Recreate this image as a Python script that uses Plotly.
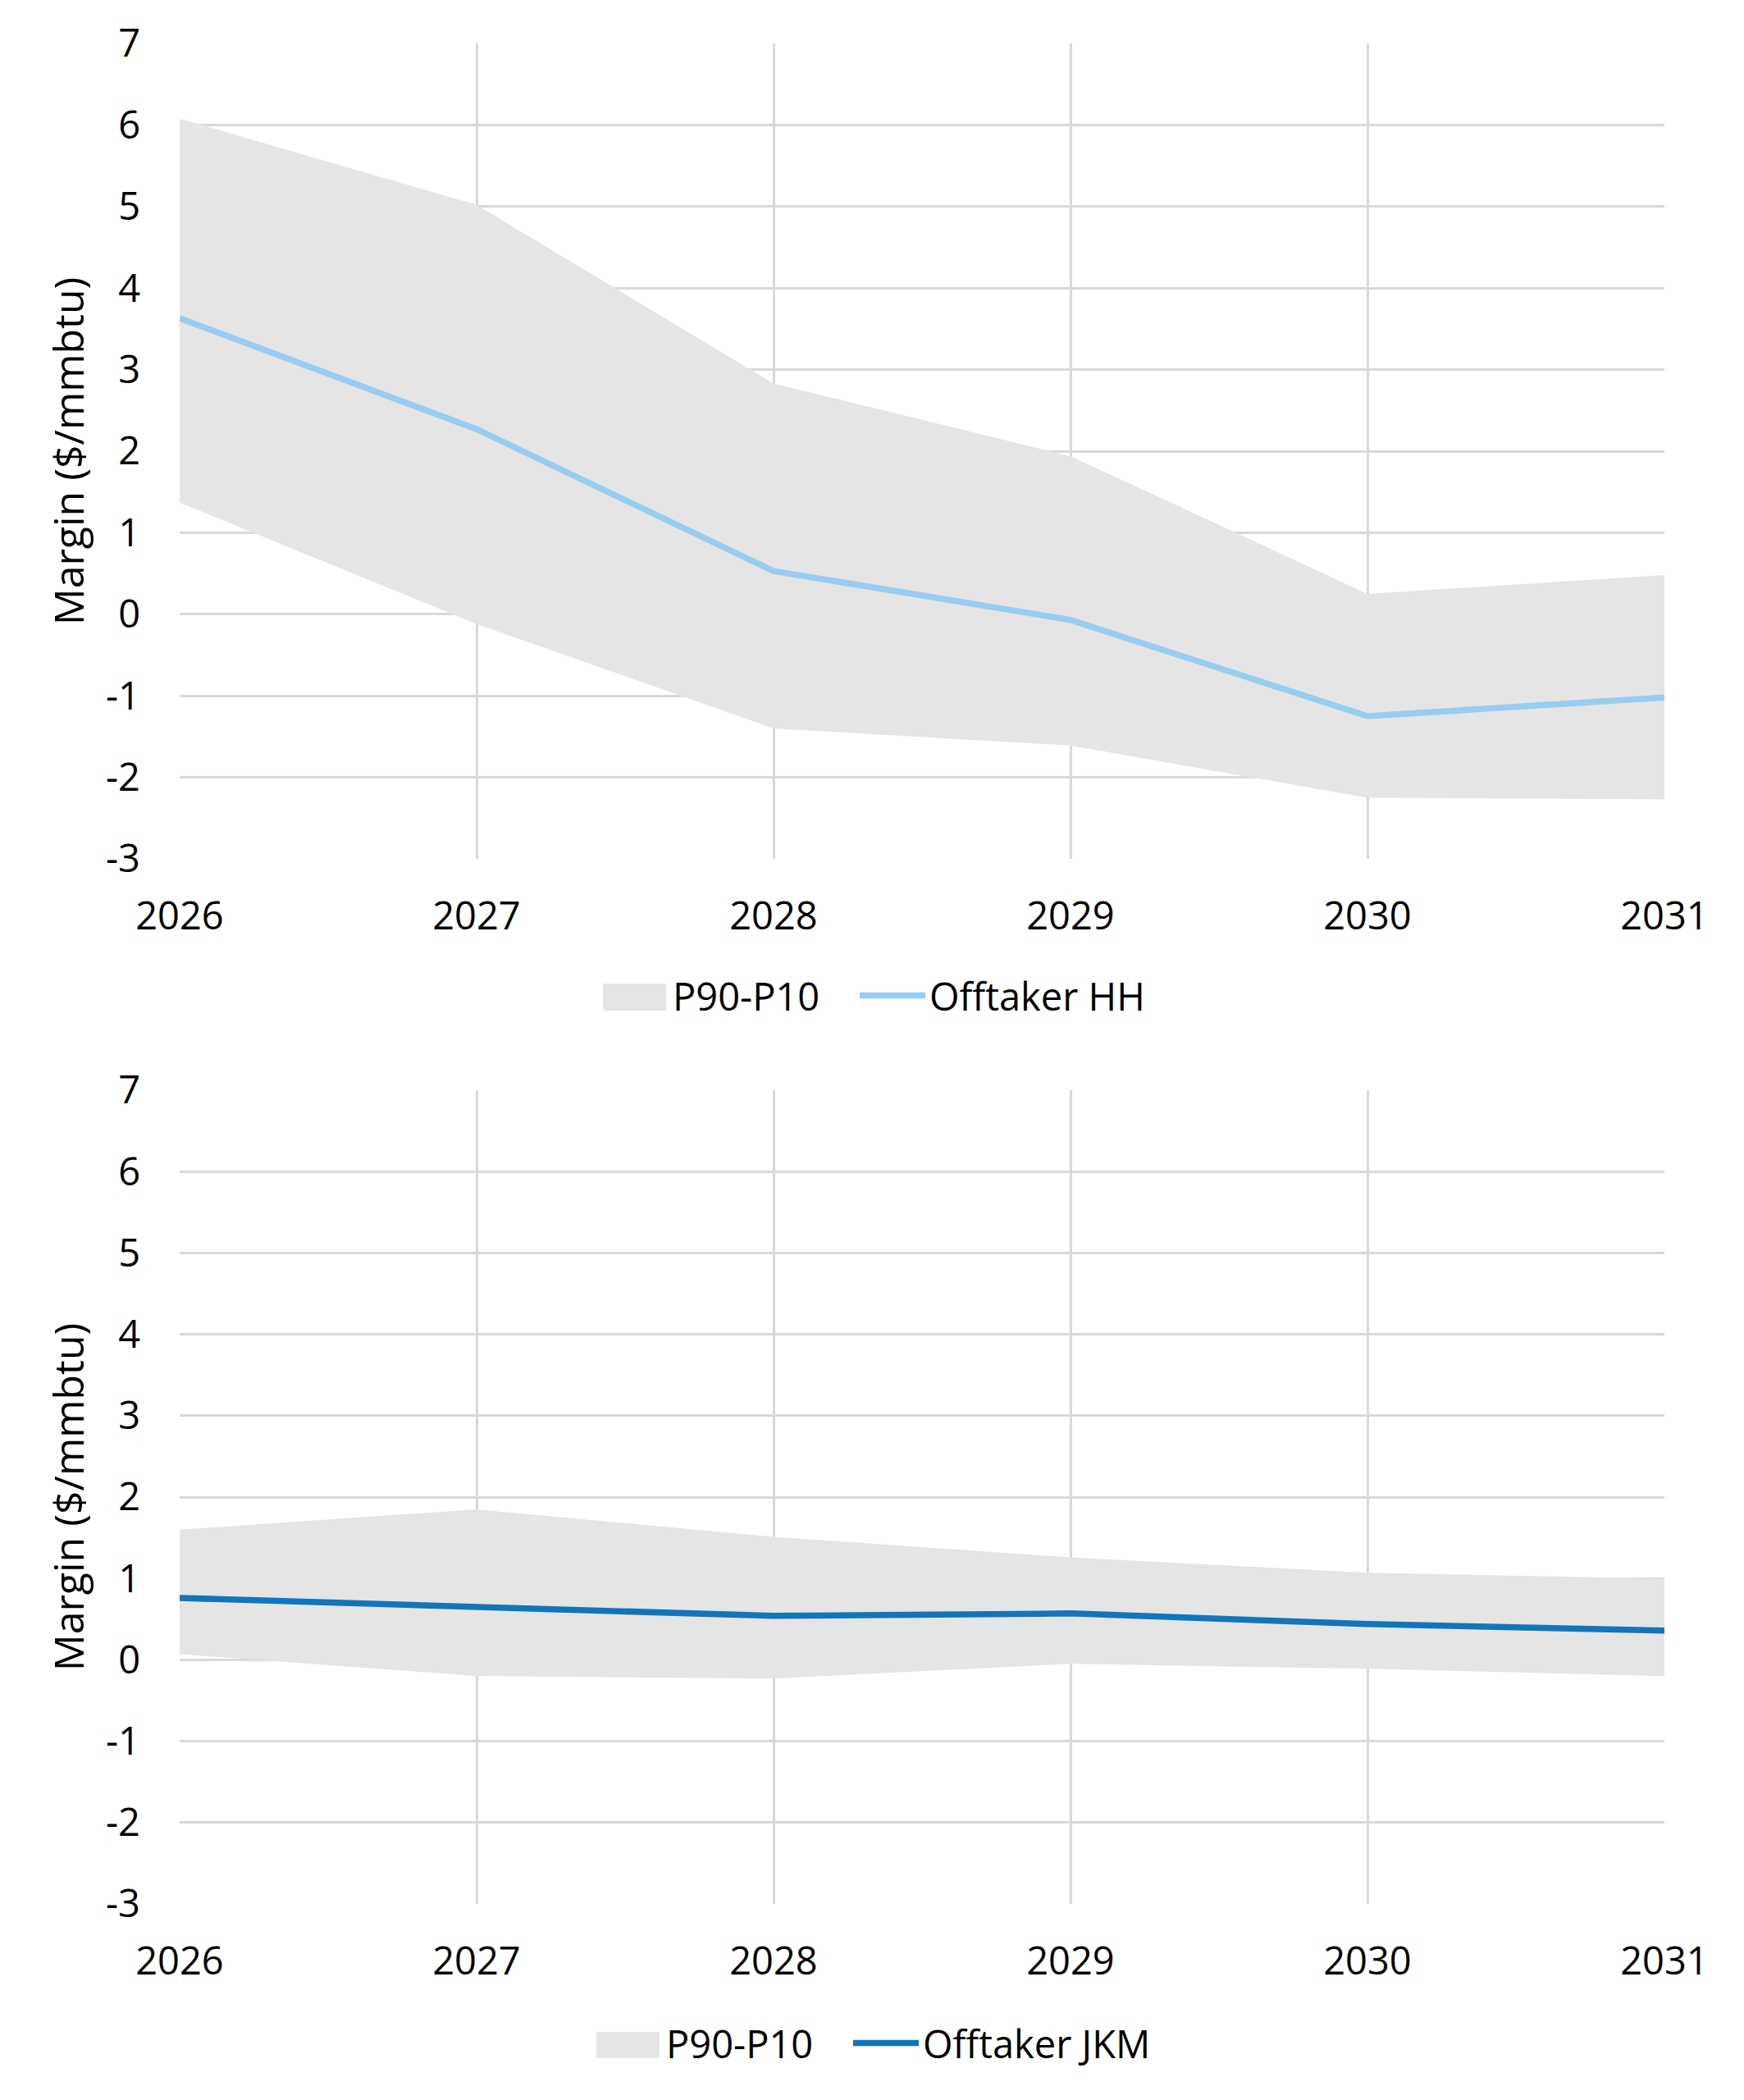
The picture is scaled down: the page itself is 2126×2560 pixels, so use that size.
import plotly.graph_objects as go
from plotly.subplots import make_subplots

years = [2026, 2027, 2028, 2029, 2030, 2031]

hh_p10 = [6.08, 5.02, 2.83, 1.94, 0.25, 0.48]
hh_p90 = [1.37, -0.12, -1.40, -1.61, -2.25, -2.27]
hh_line = [3.63, 2.27, 0.53, -0.07, -1.25, -1.02]

jkm_p10 = [1.60, 1.85, 1.51, 1.26, 1.07, 1.00]
jkm_p90 = [0.07, -0.20, -0.23, -0.05, -0.11, -0.20]
jkm_line = [0.76, 0.65, 0.54, 0.57, 0.44, 0.36]

y_ticks = [-3, -2, -1, 0, 1, 2, 3, 4, 5, 6, 7]
y_tick_labels = ["-3", "-2", "-1", "0", "1", "2", "3", "4", "5", "6", "7"]
x_tick_labels = ["2026", "2027", "2028", "2029", "2030", "2031"]

band_name = "P90-P10"
hh_name = "Offtaker HH"
jkm_name = "Offtaker JKM"
y_title = "Margin ($/mmbtu)"

BAND = "#e5e5e5"
HH_COL = "#97cdef"
JKM_COL = "#1175bb"
GRID = "#d9d9d9"
FONT = "Open Sans"
FS = 47

W, H = 2126, 2560
L, R, T, B = 211, 105, 45, 247
plot_w = W - L - R
plot_h = H - T - B
bottom_px = H - B
top_dom = [(bottom_px - 1039) / plot_h, 1.0]
bot_dom = [0.0, (bottom_px - 1321) / plot_h]


def px_x(p):
    return (p - L) / plot_w


def px_y(p):
    return (bottom_px - p) / plot_h


fig = make_subplots(rows=2, cols=1)

def add_panel(row, lo, hi, line, color, name, legend):
    fig.add_trace(go.Scatter(x=years, y=lo, mode="lines", line=dict(width=0, color=BAND),
                             showlegend=False, hoverinfo="skip"), row=row, col=1)
    fig.add_trace(go.Scatter(x=years, y=hi, mode="lines", fill="tonexty", fillcolor=BAND,
                             line=dict(width=0, color=BAND), showlegend=False,
                             hoverinfo="skip"), row=row, col=1)
    # legend entry for the band (its swatch is drawn as a larger box below)
    fig.add_trace(go.Scatter(x=[None], y=[None], mode="lines",
                             line=dict(width=1, color="rgba(0,0,0,0)"), name=band_name,
                             legend=legend, legendrank=1, legendwidth=218), row=row, col=1)
    fig.add_trace(go.Scatter(x=years, y=line, mode="lines", line=dict(width=7.5, color=color),
                             name=name, legend=legend, legendrank=2), row=row, col=1)

add_panel(1, hh_p90, hh_p10, hh_line, HH_COL, hh_name, "legend")
add_panel(2, jkm_p90, jkm_p10, jkm_line, JKM_COL, jkm_name, "legend2")

for r in (1, 2):
    fig.update_xaxes(range=[years[0], years[-1]], tickvals=years, ticktext=x_tick_labels,
                     showgrid=True, gridcolor=GRID, gridwidth=3, zeroline=False,
                     showline=False, ticks="", ticklabelstandoff=38,
                     tickfont=dict(family=FONT, size=FS, color="black"), row=r, col=1)
    fig.update_yaxes(range=[-3, 7], tickvals=y_ticks, ticktext=y_tick_labels,
                     showgrid=True, gridcolor=GRID, gridwidth=3, zeroline=False,
                     showline=False, ticks="", ticklabelstandoff=47,
                     tickfont=dict(family=FONT, size=FS, color="black"),
                     title=dict(text=y_title, font=dict(family=FONT, size=50, color="black"),
                                standoff=10),
                     row=r, col=1)

fig.update_layout(
    xaxis=dict(domain=[0, 1]), yaxis=dict(domain=top_dom),
    xaxis2=dict(domain=[0, 1]), yaxis2=dict(domain=bot_dom),
)

# larger legend swatches for the band (Excel-style box)
for (x0, x1, y0, y1) in [(727, 804, 1191, 1224), (719, 796, 2469, 2501)]:
    fig.add_shape(type="rect", xref="paper", yref="paper",
                  x0=px_x(x0), x1=px_x(x1), y0=px_y(y1), y1=px_y(y0),
                  fillcolor=BAND, line=dict(width=0), layer="above")

legend_common = dict(orientation="h", xanchor="left", yanchor="middle",
                     itemwidth=80, traceorder="normal",
                     font=dict(family=FONT, size=FS, color="black"),
                     bgcolor="rgba(0,0,0,0)")
fig.update_layout(
    width=W, height=H,
    margin=dict(l=L, r=R, t=T, b=B, autoexpand=False),
    paper_bgcolor="white", plot_bgcolor="white",
    font=dict(family=FONT, size=FS, color="black"),
    legend=dict(x=px_x(722), y=px_y(1206), **legend_common),
    legend2=dict(x=px_x(714), y=px_y(2483), **legend_common),
)

fig.write_html("out.html")
